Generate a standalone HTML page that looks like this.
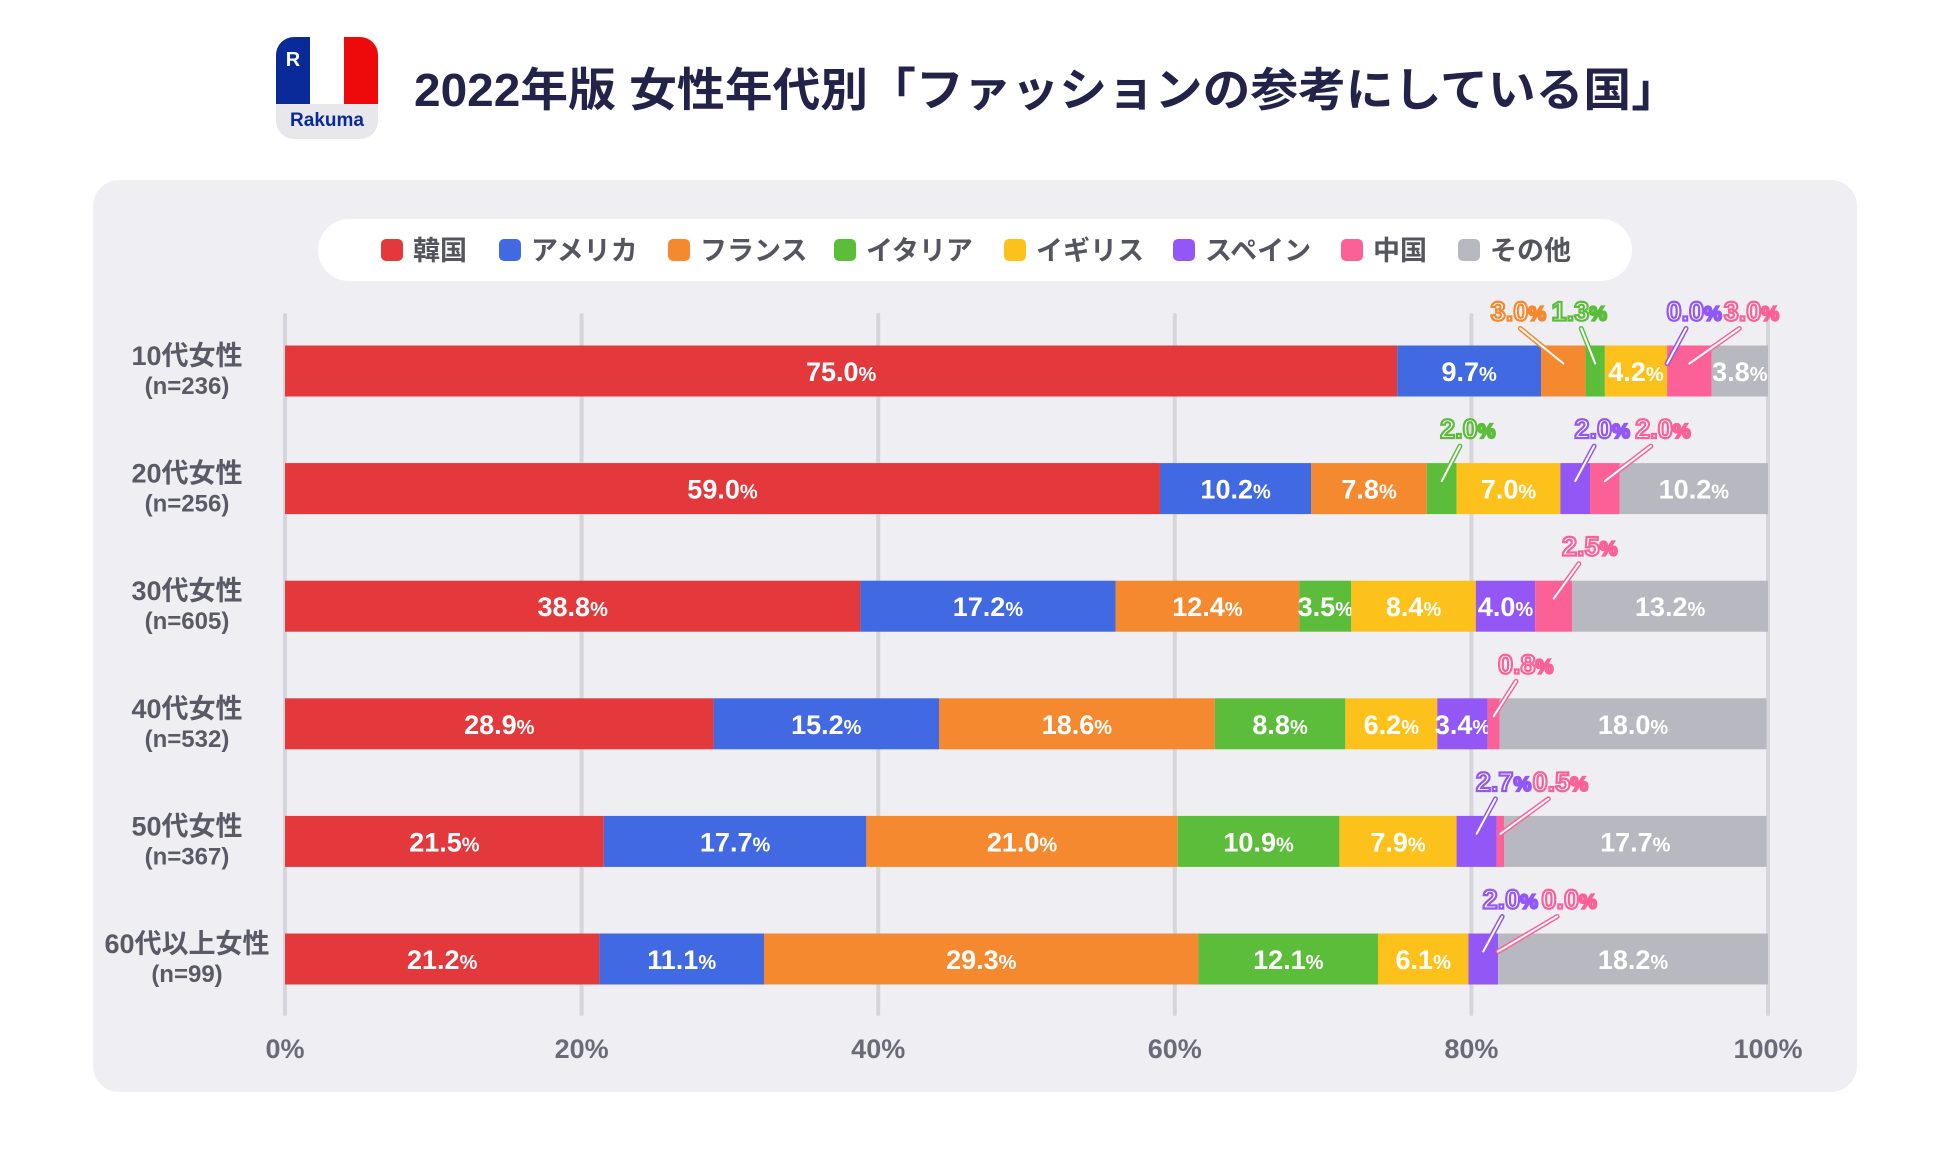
<!DOCTYPE html>
<html><head><meta charset="utf-8"><style>
html,body{margin:0;padding:0;background:#fff;}
svg{display:block;font-family:"Liberation Sans","Noto Sans CJK JP",sans-serif;}
</style></head><body>
<svg id="chart" width="1950" height="1170" viewBox="0 0 1950 1170" xmlns="http://www.w3.org/2000/svg">
  <g>
    <clipPath id="lc"><rect x="276" y="37" width="102" height="102" rx="18"/></clipPath>
    <g clip-path="url(#lc)">
      <rect x="276" y="37" width="102" height="102" fill="#e8e8ec"/>
      <rect x="276" y="37" width="34" height="67" fill="#0a2a9a"/>
      <rect x="310" y="37" width="34" height="67" fill="#ffffff"/>
      <rect x="344" y="37" width="34" height="67" fill="#ee0a0a"/>
    </g>
    <text x="293" y="66" font-size="20" font-weight="bold" fill="#fff" text-anchor="middle">R</text>
    <text x="327" y="126" font-size="19" font-weight="bold" fill="#0a2a9a" text-anchor="middle">Rakuma</text>
  </g>
  <text x="414" y="106" font-size="46" font-weight="bold" fill="#23234a" textLength="1265" lengthAdjust="spacingAndGlyphs">2022年版 女性年代別「ファッションの参考にしている国」</text>
  <rect x="93" y="180" width="1764" height="912" rx="26" fill="#efeff3"/>
  <rect x="318" y="219" width="1314" height="62" rx="31" fill="#ffffff"/>
  <g id="legend"></g>
  <g id="grid"></g>
  <g id="bars"></g>
  <g id="callouts"></g>
  <g id="axis"></g>
</svg>
<script>
const categories = ["10代女性","20代女性","30代女性","40代女性","50代女性","60代以上女性"];
const sampleSizes = ["(n=236)","(n=256)","(n=605)","(n=532)","(n=367)","(n=99)"];
const seriesNames = ["韓国","アメリカ","フランス","イタリア","イギリス","スペイン","中国","その他"];
const korea   = [75.0, 59.0, 38.8, 28.9, 21.5, 21.2];
const america = [9.7, 10.2, 17.2, 15.2, 17.7, 11.1];
const france  = [3.0, 7.8, 12.4, 18.6, 21.0, 29.3];
const italy   = [1.3, 2.0, 3.5, 8.8, 10.9, 12.1];
const uk      = [4.2, 7.0, 8.4, 6.2, 7.9, 6.1];
const spain   = [0.0, 2.0, 4.0, 3.4, 2.7, 2.0];
const china   = [3.0, 2.0, 2.5, 0.8, 0.5, 0.0];
const other   = [3.8, 10.2, 13.2, 18.0, 17.7, 18.2];
const tickValues = [0, 20, 40, 60, 80, 100];
const tickLabels = ["0%","20%","40%","60%","80%","100%"];

const series = [korea, america, france, italy, uk, spain, china, other];
const colors = ["#e4393c","#4169e1","#f5892f","#5bbd3a","#fcc21b","#9257f5","#fb6096","#b8b8c0"];
// callout layout: [row, series, label offset px]
const callouts = [[0,2,-45],[0,3,-16],[0,5,27],[0,6,62],[1,3,26],[1,5,27],[1,6,58],[2,6,36],[3,6,32],[4,5,27],[4,6,60],[5,5,27],[5,6,71]];

const NS = "http://www.w3.org/2000/svg";
const X0 = 285, X1 = 1768;
const xScale = v => X0 + (X1 - X0) * v / 100;
const yCenter = i => 371 + i * 117.6;
const BH = 51;
function mk(tag, attrs, parent){const e=document.createElementNS(NS,tag);for(const k in attrs)e.setAttribute(k,attrs[k]);parent.appendChild(e);return e;}

const legendX = [381,499,668,834,1004,1173,1341,1458];
const lg = document.getElementById('legend');
seriesNames.forEach((n,i)=>{
  const g = mk('g',{},lg);
  
  
  mk('rect',{x:legendX[i],y:239,width:22,height:22,rx:5,fill:colors[i]},g);
  const t = mk('text',{x:legendX[i]+32,y:260,'font-size':27,'font-weight':'bold',fill:'#55555f'},g);
  t.textContent = n;
});

const gr = document.getElementById('grid'), ax = document.getElementById('axis');
tickValues.forEach((v,i)=>{
  const l = mk('line',{x1:xScale(v),x2:xScale(v),y1:315,y2:1014,stroke:'#d5d5db','stroke-width':4,'stroke-linecap':'round'},gr);
  
  
  const t = mk('text',{x:xScale(v),y:1058,'font-size':27,'font-weight':'bold',fill:'#6b6b78','text-anchor':'middle'},ax);
  
  
  t.textContent = tickLabels[i];
});

const bg = document.getElementById('bars');
const segs = [];
categories.forEach((c,r)=>{
  const yc = yCenter(r);
  const t1 = mk('text',{x:187,y:yc-6,'font-size':27,'font-weight':'bold',fill:'#5a5a66','text-anchor':'middle'},ax);
  
  
  t1.textContent = c;
  const t2 = mk('text',{x:187,y:yc+23,'font-size':24,'font-weight':'bold',fill:'#5a5a66','text-anchor':'middle'},ax);
  
  
  t2.textContent = sampleSizes[r];
  let acc = 0; segs[r]=[];
  series.forEach((s,k)=>{
    const v = s[r];
    const a = Math.min(acc,100), b = Math.min(acc+v,100);
    const x = xScale(a), w = xScale(b)-xScale(a);
    const rc = mk('rect',{x:x,y:yc-BH/2,width:Math.max(w,0),height:BH,fill:colors[k]},bg);
    
    
    segs[r][k] = {cx:x+w/2, w:w};
    const isCallout = callouts.some(c=>c[0]===r&&c[1]===k);
    if(!isCallout && v>0){
      const t = mk('text',{x:x+w/2,y:yc+10,'font-size':27,'font-weight':'bold',fill:'#fff','text-anchor':'middle'},bg);
      
      
      t.textContent = v.toFixed(1);
      const p = mk('tspan',{'font-size':20},t);
      p.textContent = '%';
    }
    acc += v;
  });
});

const cg = document.getElementById('callouts');
callouts.forEach(([r,k,dx])=>{
  const yc = yCenter(r), sg = segs[r][k];
  const lx = sg.cx + dx, ly = yc - BH/2 - 25;
  const sx = sg.cx, sy = yc - BH/2 + 18;
  const ex = lx + (dx<0?2:-(Math.sign(dx)*Math.min(Math.abs(dx)*0.3,12))), ey = ly + 8;
  mk('line',{x1:ex,y1:ey,x2:sx,y2:sy,stroke:colors[k],'stroke-width':5,'stroke-linecap':'round'},cg);
  mk('line',{x1:ex,y1:ey,x2:sx,y2:sy,stroke:'#fff','stroke-width':2,'stroke-linecap':'round'},cg);
  const t = mk('text',{x:lx,y:ly,'font-size':27,'font-weight':'bold',fill:'#fff',stroke:colors[k],'stroke-width':2.2,'text-anchor':'middle'},cg);
  
  
  t.textContent = series[k][r].toFixed(1);
  const p = mk('tspan',{'font-size':20},t);
  p.textContent = '%';
});
</script>
</body></html>
